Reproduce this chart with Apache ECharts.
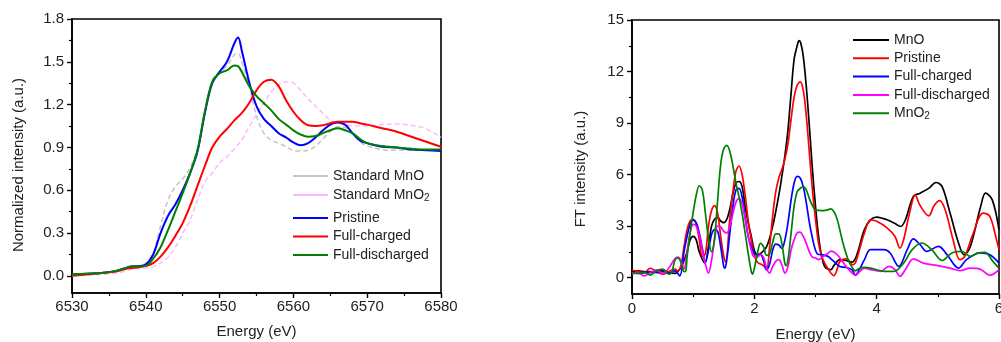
<!DOCTYPE html>
<html><head><meta charset="utf-8">
<script src="https://cdn.jsdelivr.net/npm/echarts@6/dist/echarts.min.js"></script>
<style>html,body{margin:0;padding:0;background:#fff}#c{width:1001px;height:342px}</style>
</head><body><div id="c"></div>
<script>
// ---- Left panel: XANES ----
const xanesEnergy = [6530,6532,6534,6536,6537,6538,6539,6540,6541,6542,6543,6544,6545,6546,6547,6548,6549,6550,6551,6552,6552.5,6553,6554,6555,6556,6557,6558,6559,6560,6561,6562,6563,6564,6565,6566,6567,6568,6569,6570,6572,6574,6576,6578,6580];
const stdMnO = [0.0,0.01,0.02,0.035,0.055,0.065,0.07,0.09,0.16,0.35,0.53,0.625,0.68,0.76,0.9,1.15,1.37,1.43,1.47,1.55,1.56,1.5,1.33,1.12,1.0,0.95,0.93,0.905,0.88,0.875,0.88,0.91,0.96,1.01,1.045,1.04,1.0,0.94,0.91,0.885,0.88,0.88,0.88,0.88];
const stdMnO2 = [0.0,0.005,0.01,0.02,0.03,0.045,0.05,0.055,0.065,0.09,0.13,0.2,0.3,0.39,0.53,0.66,0.72,0.79,0.835,0.89,0.92,0.95,1.045,1.13,1.21,1.29,1.34,1.36,1.35,1.3,1.24,1.19,1.14,1.09,1.07,1.06,1.05,1.05,1.05,1.06,1.065,1.055,1.03,0.97];
const pristineXanes = [0.01,0.015,0.02,0.035,0.05,0.065,0.068,0.08,0.15,0.3,0.42,0.5,0.6,0.72,0.87,1.14,1.35,1.43,1.5,1.63,1.67,1.58,1.36,1.19,1.1,1.05,1.0,0.97,0.935,0.915,0.93,0.97,1.02,1.06,1.075,1.06,1.0,0.95,0.93,0.905,0.9,0.885,0.88,0.875];
const chargedXanes = [0.0,0.01,0.02,0.03,0.045,0.055,0.06,0.07,0.09,0.135,0.2,0.28,0.37,0.49,0.63,0.77,0.9,0.975,1.03,1.09,1.115,1.14,1.21,1.3,1.36,1.375,1.33,1.23,1.15,1.09,1.055,1.05,1.055,1.07,1.08,1.08,1.08,1.07,1.06,1.035,1.01,0.975,0.94,0.905];
const dischargedXanes = [0.01,0.015,0.02,0.035,0.05,0.065,0.065,0.07,0.12,0.2,0.32,0.45,0.58,0.72,0.88,1.15,1.36,1.42,1.44,1.475,1.47,1.43,1.33,1.26,1.21,1.16,1.1,1.06,1.02,0.99,0.975,0.98,1.0,1.02,1.035,1.02,1.0,0.96,0.93,0.91,0.9,0.89,0.885,0.885];
const xanesYTicks = [0,0.3,0.6,0.9,1.2,1.5,1.8];
const xanesYMinor = [0.15,0.45,0.75,1.05,1.35,1.65];

// ---- Right panel: FT ([energy, intensity]) ----
const ftMnO = [[0,0.37],[0.1,0.4],[0.2,0.35],[0.3,0.3],[0.4,0.37],[0.5,0.45],[0.6,0.3],[0.7,0.25],[0.8,0.6],[0.85,1.0],[0.9,1.5],[0.95,2.2],[1.0,2.4],[1.05,2.2],[1.1,1.5],[1.19,0.85],[1.25,1.8],[1.3,3.0],[1.35,3.4],[1.4,3.5],[1.45,3.3],[1.5,3.2],[1.55,3.4],[1.6,4.0],[1.65,4.9],[1.7,5.5],[1.75,5.6],[1.8,5.3],[1.85,4.15],[1.9,3.2],[1.95,2.4],[2.0,1.6],[2.05,1.35],[2.1,1.4],[2.2,1.8],[2.3,3.0],[2.4,4.8],[2.45,5.9],[2.5,7.1],[2.55,8.6],[2.6,10.7],[2.65,12.7],[2.7,13.5],[2.73,13.8],[2.76,13.65],[2.8,12.9],[2.85,11.1],[2.9,8.8],[2.95,6.3],[3.0,4.15],[3.05,2.4],[3.1,1.25],[3.15,0.65],[3.2,0.5],[3.25,0.47],[3.3,0.7],[3.4,1.05],[3.5,1.0],[3.6,0.9],[3.65,1.1],[3.7,1.6],[3.8,2.8],[3.9,3.37],[4.0,3.52],[4.1,3.45],[4.17,3.37],[4.3,3.15],[4.39,2.98],[4.47,3.37],[4.6,4.73],[4.71,4.92],[4.85,5.2],[4.97,5.54],[5.07,5.3],[5.2,3.76],[5.34,2.0],[5.43,1.33],[5.53,1.8],[5.7,4.14],[5.78,4.92],[5.89,4.53],[6.0,2.79]];
const ftPristine = [[0,0.45],[0.1,0.35],[0.2,0.3],[0.3,0.55],[0.4,0.35],[0.5,0.2],[0.6,0.35],[0.7,0.5],[0.75,0.4],[0.8,0.7],[0.85,1.8],[0.9,2.8],[0.95,3.3],[1.0,3.4],[1.05,3.1],[1.1,2.2],[1.15,1.25],[1.2,1.4],[1.25,3.0],[1.3,3.9],[1.35,4.2],[1.4,3.75],[1.45,2.4],[1.5,1.25],[1.53,0.9],[1.6,3.5],[1.65,5.0],[1.7,6.2],[1.75,6.5],[1.8,6.0],[1.85,4.8],[1.9,3.3],[1.95,2.2],[2.0,1.3],[2.05,0.9],[2.1,0.8],[2.15,0.7],[2.2,0.5],[2.25,1.8],[2.3,3.6],[2.35,5.0],[2.4,5.8],[2.45,6.3],[2.5,6.9],[2.55,7.8],[2.6,9.2],[2.65,10.5],[2.7,11.2],[2.75,11.4],[2.8,10.9],[2.85,9.4],[2.9,7.25],[2.95,5.1],[3.0,3.4],[3.05,2.0],[3.1,1.25],[3.15,0.85],[3.2,0.55],[3.25,0.27],[3.3,0.12],[3.35,0.45],[3.4,0.95],[3.5,1.1],[3.55,1.0],[3.6,0.75],[3.65,0.85],[3.7,1.4],[3.8,2.6],[3.9,3.37],[4.0,3.28],[4.17,2.9],[4.3,2.4],[4.38,1.72],[4.44,2.2],[4.54,3.8],[4.63,4.8],[4.71,4.2],[4.85,3.6],[4.94,4.2],[5.03,4.48],[5.12,3.95],[5.25,2.2],[5.36,1.05],[5.44,1.24],[5.58,2.6],[5.74,3.76],[5.85,3.57],[5.96,2.2],[6.0,1.63]];
const ftCharged = [[0,0.3],[0.1,0.25],[0.2,0.3],[0.3,0.35],[0.4,0.3],[0.5,0.35],[0.6,0.25],[0.7,0.4],[0.78,0.1],[0.85,1.5],[0.9,2.4],[0.95,3.1],[1.0,3.35],[1.05,3.2],[1.1,2.6],[1.15,1.7],[1.2,0.9],[1.25,1.6],[1.3,2.5],[1.35,2.8],[1.4,2.7],[1.45,1.8],[1.5,0.65],[1.52,0.55],[1.55,1.05],[1.6,2.6],[1.65,4.15],[1.7,5.1],[1.75,5.2],[1.8,4.7],[1.85,3.55],[1.9,2.4],[1.95,1.8],[2.0,1.4],[2.05,1.3],[2.1,1.35],[2.15,1.0],[2.2,0.45],[2.25,0.8],[2.3,1.6],[2.35,1.95],[2.4,1.9],[2.45,1.7],[2.5,2.2],[2.55,3.2],[2.6,4.5],[2.65,5.5],[2.7,5.9],[2.75,5.8],[2.8,5.3],[2.85,4.35],[2.9,3.2],[2.95,2.3],[3.0,1.6],[3.05,1.35],[3.1,1.35],[3.15,1.3],[3.2,1.25],[3.3,0.95],[3.4,0.65],[3.5,0.6],[3.6,0.45],[3.65,0.15],[3.7,0.35],[3.8,1.05],[3.9,1.63],[4.12,1.63],[4.22,1.44],[4.36,0.66],[4.5,1.63],[4.6,2.26],[4.71,1.92],[4.82,1.53],[5.01,1.82],[5.15,1.34],[5.34,0.56],[5.47,1.05],[5.69,1.44],[5.85,1.34],[6.0,0.85]];
const ftDischarged = [[0,0.2],[0.1,0.3],[0.2,0.1],[0.3,0.3],[0.4,0.45],[0.5,0.25],[0.6,0.55],[0.7,1.1],[0.75,1.2],[0.8,1.0],[0.85,0.5],[0.9,1.5],[0.95,2.6],[1.0,3.1],[1.05,3.0],[1.1,2.5],[1.15,1.6],[1.2,0.8],[1.25,0.27],[1.3,1.0],[1.35,2.2],[1.4,3.0],[1.45,2.95],[1.5,2.7],[1.55,2.6],[1.6,3.0],[1.65,3.75],[1.7,4.4],[1.75,4.6],[1.8,4.3],[1.85,3.4],[1.9,2.4],[1.95,1.6],[2.0,1.2],[2.05,1.2],[2.1,1.35],[2.15,1.2],[2.2,0.55],[2.25,0.27],[2.3,0.65],[2.35,0.95],[2.4,1.05],[2.45,0.75],[2.5,0.27],[2.55,0.65],[2.6,1.6],[2.65,2.2],[2.7,2.6],[2.75,2.65],[2.8,2.4],[2.85,2.0],[2.9,1.5],[2.95,1.2],[3.0,1.15],[3.05,1.05],[3.1,1.15],[3.15,1.3],[3.2,1.4],[3.25,1.55],[3.3,1.5],[3.35,1.35],[3.4,1.15],[3.5,0.65],[3.6,0.27],[3.65,0.13],[3.7,0.27],[3.8,0.55],[3.9,0.47],[4.06,0.37],[4.2,0.66],[4.3,0.47],[4.38,0.08],[4.47,0.47],[4.6,1.1],[4.76,0.85],[4.98,0.72],[5.2,0.56],[5.36,0.41],[5.53,0.56],[5.69,0.5],[5.85,0.14],[6.0,0.47]];
const ftMnO2 = [[0,0.3],[0.1,0.25],[0.2,0.3],[0.3,0.15],[0.4,0.4],[0.5,0.5],[0.6,0.2],[0.65,0.3],[0.7,1.0],[0.75,1.15],[0.8,0.9],[0.85,0.35],[0.88,0.4],[0.9,1.2],[0.95,2.6],[1.0,3.8],[1.05,4.8],[1.1,5.35],[1.15,5.1],[1.2,3.75],[1.25,2.3],[1.3,1.5],[1.35,2.3],[1.4,4.5],[1.45,6.6],[1.5,7.5],[1.55,7.7],[1.6,7.35],[1.65,6.5],[1.7,5.5],[1.75,4.7],[1.8,3.75],[1.85,2.6],[1.9,1.4],[1.95,0.35],[1.97,0.2],[2.0,0.55],[2.05,1.4],[2.1,2.0],[2.15,1.8],[2.2,1.3],[2.25,1.4],[2.3,2.05],[2.35,2.55],[2.4,2.55],[2.45,2.0],[2.5,0.8],[2.52,0.7],[2.55,1.05],[2.6,2.55],[2.65,4.15],[2.7,5.0],[2.75,5.2],[2.8,5.3],[2.85,5.1],[2.9,4.6],[2.95,4.2],[3.0,3.95],[3.1,3.9],[3.2,3.95],[3.25,4.0],[3.3,3.85],[3.35,3.45],[3.4,2.75],[3.45,2.0],[3.5,1.4],[3.55,0.9],[3.6,0.6],[3.65,0.4],[3.7,0.5],[3.8,0.6],[3.9,0.56],[4.12,0.37],[4.28,0.37],[4.44,0.85],[4.58,1.63],[4.74,2.02],[4.9,1.63],[5.07,1.0],[5.23,1.44],[5.39,1.53],[5.53,1.24],[5.66,1.44],[5.77,1.47],[5.9,0.95],[6.0,0.56]];
const ftYTicks = [0,3,6,9,12,15];
const ftYMinor = [1.5,4.5,7.5,10.5,13.5];

const FONT = '"Liberation Sans", Arial, sans-serif';
const TXT = '#222';
const subFmt = n => n.replace(/ \(FT\)$/, '').replace(/O2$/, 'O{sub|2}');
const legendText = {fontFamily: FONT, fontSize: 14, color: TXT, lineHeight: 16,
  rich: {sub: {fontFamily: FONT, fontSize: 10, color: TXT, lineHeight: 7, verticalAlign: 'bottom'}}};

function xAxisCfg(grid, min, max, interval, nameGap, margin) {
  return {type: 'value', gridIndex: grid, min: min, max: max, interval: interval,
    axisLine: {onZero: false, lineStyle: {color: '#000', width: 1.6}},
    axisTick: {length: 5, lineStyle: {color: '#000', width: 1.4}},
    minorTick: {show: true, splitNumber: 2, length: 3, lineStyle: {color: '#000', width: 1.2}},
    splitLine: {show: false},
    axisLabel: {formatter: v => String(v), fontFamily: FONT, fontSize: 15, color: TXT, margin: margin},
    name: 'Energy (eV)', nameLocation: 'middle', nameGap: nameGap,
    nameTextStyle: {fontFamily: FONT, fontSize: 15, color: TXT}};
}
function yMajor(grid, min, max, ticks, fmt, name, gap, shift) {
  return {type: 'value', gridIndex: grid, position: 'left', min: min, max: max,
    axisLine: {onZero: false, lineStyle: {color: '#000', width: 1.6}},
    axisTick: {customValues: ticks, length: 5, lineStyle: {color: '#000', width: 1.4}},
    axisLabel: {customValues: ticks, formatter: fmt, fontFamily: FONT, fontSize: 15, color: TXT, margin: 8},
    splitLine: {show: false},
    name: name, nameLocation: 'middle', nameGap: gap,
    nameTextStyle: {fontFamily: FONT, fontSize: 15, color: TXT, padding: [0, shift, 0, 0]}};
}
function yMinor(grid, min, max, ticks) {
  return {type: 'value', gridIndex: grid, position: 'left', offset: 0, min: min, max: max,
    axisLine: {show: false, onZero: false},
    axisTick: {show: true, customValues: ticks, length: 3, lineStyle: {color: '#000', width: 1.2}},
    axisLabel: {show: false}, splitLine: {show: false}};
}
function lineSeries(name, data, color, width, xi, yi, dash) {
  return {type: 'line', name: name, data: data, xAxisIndex: xi, yAxisIndex: yi,
    symbol: 'none', smooth: 0.35, animation: false,
    lineStyle: {color: color, width: width, type: dash || 'solid'},
    itemStyle: {color: color}};
}
const pair = arr => xanesEnergy.map((e, i) => [e, arr[i]]);

const chart = echarts.init(document.getElementById('c'), null, {renderer: 'canvas'});
chart.setOption({
  backgroundColor: '#fff',
  animation: false,
  grid: [
    {left: 72, top: 19, width: 369, height: 274, outerBoundsMode: 'none', containLabel: false, show: true, borderColor: '#000', borderWidth: 1.6, backgroundColor: 'transparent'},
    {left: 632, top: 20, width: 367, height: 274, outerBoundsMode: 'none', containLabel: false, show: true, borderColor: '#000', borderWidth: 1.6, backgroundColor: 'transparent'}
  ],
  xAxis: [xAxisCfg(0, 6530, 6580, 10, 31, 6), xAxisCfg(1, 0, 6, 2, 33, 7)],
  yAxis: [
    yMajor(0, -0.12, 1.8, xanesYTicks, v => Number(v).toFixed(1), 'Normalized intensity (a.u.)', 46, 18),
    yMinor(0, -0.12, 1.8, xanesYMinor),
    yMajor(1, -0.95, 15, ftYTicks, v => String(Math.round(v)), 'FT intensity (a.u.)', 44, 24),
    yMinor(1, -0.95, 15, ftYMinor)
  ],
  legend: [
    {data: ['Standard MnO', 'Standard MnO2'], orient: 'vertical', left: 293, top: 168, padding: 0,
     icon: 'rect', itemWidth: 35, itemHeight: 2, itemGap: 3, formatter: subFmt, textStyle: legendText, selectedMode: false},
    {data: ['Pristine', 'Full-charged', 'Full-discharged'], orient: 'vertical', left: 293, top: 210, padding: 0,
     icon: 'rect', itemWidth: 35, itemHeight: 2, itemGap: 2.5, formatter: subFmt, textStyle: legendText, selectedMode: false},
    {data: ['MnO (FT)', 'Pristine (FT)', 'Full-charged (FT)', 'Full-discharged (FT)', 'MnO2 (FT)'], orient: 'vertical', left: 853, top: 32, padding: 0,
     icon: 'rect', itemWidth: 36, itemHeight: 2, itemGap: 2.3, formatter: subFmt, textStyle: legendText, selectedMode: false}
  ],
  series: [
    lineSeries('Standard MnO', pair(stdMnO), '#c4c4c4', 1.5, 0, 0, [5, 3]),
    lineSeries('Standard MnO2', pair(stdMnO2), '#ffb8ff', 1.5, 0, 0, [5, 3]),
    lineSeries('Pristine', pair(pristineXanes), '#0000ff', 2, 0, 0),
    lineSeries('Full-charged', pair(chargedXanes), '#ff0000', 2, 0, 0),
    lineSeries('Full-discharged', pair(dischargedXanes), '#008000', 2, 0, 0),
    lineSeries('MnO (FT)', ftMnO, '#000000', 1.7, 1, 2),
    lineSeries('Pristine (FT)', ftPristine, '#ff0000', 1.7, 1, 2),
    lineSeries('Full-charged (FT)', ftCharged, '#0000ff', 1.7, 1, 2),
    lineSeries('Full-discharged (FT)', ftDischarged, '#ff00ff', 1.7, 1, 2),
    lineSeries('MnO2 (FT)', ftMnO2, '#008000', 1.7, 1, 2)
  ]
});
</script></body></html>
